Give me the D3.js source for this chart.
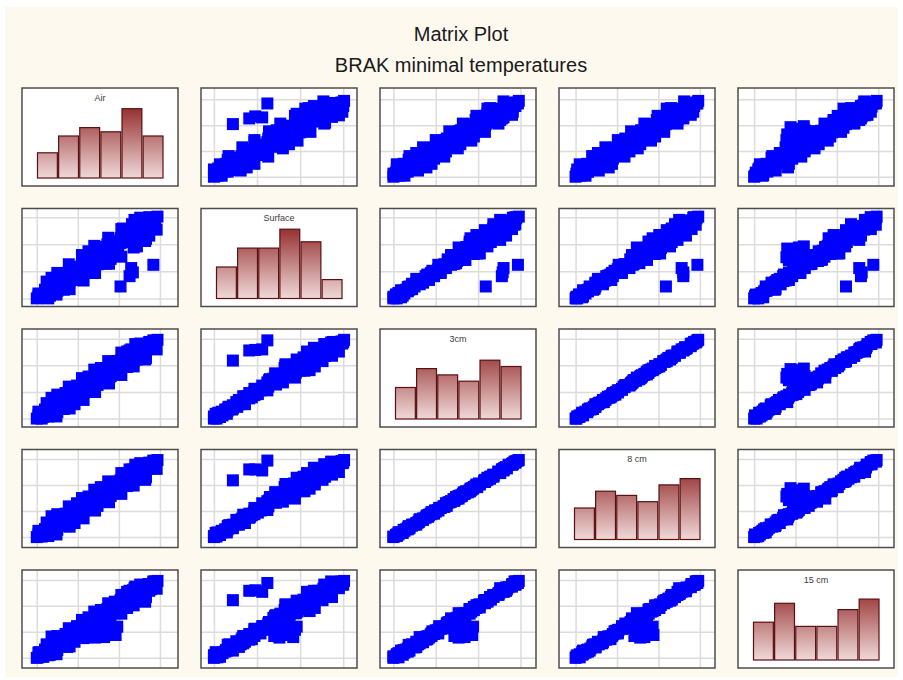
<!DOCTYPE html>
<html>
<head>
<meta charset="utf-8">
<script src="https://cdn.jsdelivr.net/npm/d3@7"></script>
<style>
body { margin: 0; background: #fff; }
text { font-family: "Liberation Sans", Arial, sans-serif; }
</style>
</head>
<body>
<script>
// variables of the matrix (rows / columns)
var names = ["Air", "Surface", "3cm", "8 cm", "15 cm"];

// minimal temperatures, one value per observation
var air = [-10.0,-8.6,-9.2,-9.7,-7.7,-8.4,-9.0,-7.5,-8.7,-6.7,
    -7.6,-8.1,-6.3,-7.0,-5.4,-7.3,-5.7,-6.6,-4.8,-5.7,
    -6.5,-4.4,-4.7,-5.6,-3.3,-4.7,-3.7,-5.1,-2.6,-3.3,
    -4.2,-1.6,-3.3,-2.0,-3.7,-1.2,-1.8,-2.7,-0.3,-1.8,
    -0.7,-2.2,0.2,-0.7,1.0,-1.0,0.7,-0.1,1.8,-0.5,
    1.4,2.2,0.5,2.4,1.6,1.0,3.2,2.9,1.9,3.7,
    2.6,3.9,2.6,4.3,3.7,4.2,4.7,
    -9.4,-9.8,-9.0,-8.3,-9.0,-8.0,-7.2,-7.8,-6.8,-7.0,
    -6.0,-6.7,-5.6,-5.4,-5.8,-4.3,-4.7,-3.8,-4.6,-3.3,
    -2.6,-3.2,-2.4,-2.6,-1.1,-1.8,-1.0,-1.4,-0.1,-0.1,
    -0.3,0.9,0.2,1.8,1.3,1.3,2.6,2.1,3.1,2.9,
    3.7,3.6,4.3,4.4,
    -7.6,-9.8,-6.0,-8.8,-4.3,-7.5,-2.9,-6.1,-1.2,-4.5,
    0.3,-3.0,1.8,-1.3,3.3,0.3,4.6,2.0,-8.2,3.2,
    -3.6,-2.9,-2.2,-1.4,-0.7,-0.2,-2.5,-1.0,-3.1,-0.4,-1.8,-2.7,
    0.2,4.2,1.3,1.7,1.5];
var surface = [-15.0,-15.0,-14.3,-14.8,-14.0,-14.5,-13.4,-13.6,-12.8,-13.4,
    -12.8,-13.2,-12.1,-12.4,-11.4,-12.1,-11.5,-10.9,-11.6,-10.6,
    -10.9,-9.9,-10.3,-9.6,-10.3,-9.3,-8.8,-9.4,-8.7,-8.8,
    -7.8,-8.6,-7.0,-8.5,-6.3,-7.8,-5.6,-7.9,-5.8,-7.8,
    -4.5,-6.8,-3.9,-6.7,-4.5,-6.7,-3.3,-4.9,-2.4,-5.3,
    -3.3,-5.4,-2.1,-3.9,-1.3,-4.2,-1.6,-3.3,-0.5,-3.4,
    -0.8,-1.9,-0.1,-2.2,0.0,-1.4,0.1,
    -14.7,-14.6,-14.6,-13.5,-13.7,-12.9,-13.3,-12.3,-12.2,-11.6,
    -11.8,-10.8,-11.2,-10.4,-10.0,-10.2,-9.2,-9.2,-9.1,-8.0,
    -8.6,-7.1,-8.1,-6.2,-7.6,-5.5,-6.7,-5.0,-6.5,-4.5,
    -5.7,-3.3,-4.8,-3.4,-4.6,-2.2,-3.1,-1.8,-2.9,-0.7,
    -2.0,-0.8,-1.2,-0.2,
    -14.3,-14.1,-13.3,-11.9,-11.7,-10.3,-10.3,-8.7,-8.6,-7.0,
    -7.3,-5.3,-5.6,-3.8,-4.0,-2.2,-2.3,-0.6,-11.2,-4.4,
    -8.0,-7.4,-6.8,-6.1,-5.6,-5.4,-6.5,-7.7,-7.1,-6.3,-5.8,-7.9,
    -12.8,-8.8,-10.9,-10.2,-9.4];
var cm3 = [-6.00,-5.76,-5.82,-5.46,-5.64,-5.34,-5.10,-5.28,-4.86,-4.92,
    -4.50,-4.68,-4.38,-4.14,-4.38,-3.90,-4.14,-3.72,-3.48,-3.60,
    -3.12,-3.24,-3.30,-2.82,-2.64,-2.76,-2.82,-2.28,-2.22,-1.92,
    -2.16,-1.68,-1.92,-1.56,-1.26,-1.38,-1.38,-0.90,-0.84,-1.02,
    -0.60,-0.30,-0.54,-0.06,-0.18,0.12,-0.12,0.48,0.48,0.42,
    0.90,0.66,1.08,1.08,1.08,1.56,1.44,1.86,1.56,1.98,
    2.16,2.04,2.46,2.40,2.64,2.58,2.88,
    -6.00,-5.64,-5.58,-5.46,-4.98,-4.98,-4.68,-4.68,-4.20,-4.14,
    -4.08,-3.54,-3.48,-3.36,-3.00,-3.06,-2.70,-2.40,-2.46,-2.04,
    -1.74,-1.74,-1.50,-1.14,-1.26,-0.84,-0.60,-0.60,-0.30,0.12,
    0.06,0.42,0.42,0.84,0.90,1.08,1.50,1.44,1.80,1.98,
    1.98,2.46,2.64,2.70,
    -5.76,-5.22,-4.86,-4.26,-3.90,-3.30,-3.00,-2.40,-2.04,-1.44,
    -1.08,-0.48,-0.12,0.48,0.84,1.44,1.80,2.40,-3.66,0.66,
    -1.68,-1.38,-1.14,-0.84,-0.54,-0.36,-0.72,-1.20,-1.56,-0.42,-0.96,-1.50,
    0.54,2.82,1.68,1.74,1.80];
var cm8 = [-4.00,-3.92,-3.84,-3.68,-3.64,-3.68,-3.40,-3.44,-3.32,-3.16,
    -3.04,-3.08,-3.04,-2.68,-2.92,-2.68,-2.64,-2.52,-2.28,-2.32,
    -2.20,-2.12,-2.08,-1.96,-1.76,-1.76,-1.92,-1.40,-1.60,-1.24,
    -1.36,-1.20,-1.28,-0.92,-0.88,-0.84,-1.04,-0.56,-0.56,-0.56,
    -0.48,-0.16,-0.28,-0.16,-0.08,0.08,0.04,0.24,0.40,0.24,
    0.64,0.56,0.64,0.72,0.80,0.92,1.00,1.32,1.00,1.32,
    1.56,1.28,1.68,1.60,1.72,1.80,1.92,
    -3.96,-3.80,-3.64,-3.64,-3.40,-3.28,-3.12,-3.04,-2.84,-2.72,
    -2.64,-2.44,-2.32,-2.20,-2.04,-1.96,-1.76,-1.68,-1.64,-1.32,
    -1.20,-1.08,-1.00,-0.80,-0.80,-0.48,-0.48,-0.40,-0.16,0.04,
    0.12,0.28,0.32,0.48,0.64,0.72,0.96,1.04,1.20,1.36,
    1.36,1.60,1.76,1.84,
    -3.80,-3.52,-3.20,-2.88,-2.56,-2.24,-1.96,-1.64,-1.32,-1.00,
    -0.68,-0.36,-0.04,0.28,0.60,0.92,1.24,1.56,-2.40,0.40,
    -1.16,-0.88,-0.80,-0.52,-0.40,-0.28,-0.56,-0.84,-1.00,-0.24,-0.68,-1.04,
    0.36,1.88,1.20,1.20,1.12];
var cm15 = [-3.00,-2.90,-2.96,-2.78,-2.82,-2.88,-2.68,-2.70,-2.72,-2.50,
    -2.60,-2.48,-2.58,-2.36,-2.38,-2.40,-2.20,-2.30,-2.16,-2.28,
    -2.08,-1.98,-2.06,-2.06,-1.88,-1.78,-1.92,-1.78,-1.68,-1.82,
    -1.64,-1.62,-1.48,-1.62,-1.44,-1.48,-1.28,-1.38,-1.28,-1.36,
    -1.14,-1.16,-1.20,-0.98,-1.08,-0.94,-1.08,-0.86,-0.78,-0.84,
    -0.72,-0.80,-0.58,-0.64,-0.66,-0.46,-0.54,-0.44,-0.32,-0.42,
    -0.28,-0.36,-0.18,-0.18,-0.18,-0.06,-0.04,
    -2.94,-2.98,-2.84,-2.72,-2.76,-2.64,-2.50,-2.52,-2.40,-2.44,
    -2.30,-2.18,-2.22,-2.10,-1.96,-2.02,-1.86,-1.82,-1.86,-1.64,
    -1.64,-1.60,-1.46,-1.34,-1.38,-1.28,-1.30,-1.12,-1.04,-1.06,
    -0.96,-0.80,-0.84,-0.72,-0.76,-0.60,-0.50,-0.52,-0.42,-0.30,
    -0.30,-0.16,-0.18,-0.06,
    -2.86,-2.80,-2.56,-2.48,-2.24,-2.16,-1.94,-1.86,-1.62,-1.54,
    -1.30,-1.22,-0.98,-0.90,-0.66,-0.58,-0.34,-0.26,-2.18,-0.84,
    -2.16,-2.22,-2.08,-2.02,-1.92,-1.80,-1.88,-1.78,-1.96,-2.12,-2.20,-1.82,
    -0.78,-0.12,-0.42,-0.40,-0.46];

// histogram counts (6 bins) on the diagonal
var histAir = [12, 20, 24, 22, 33, 20];
var histSurface = [15, 24, 24, 33, 27, 9];
var hist3 = [15, 24, 21, 18, 28, 25];
var hist8 = [15, 23, 21, 18, 26, 29];
var hist15 = [18, 27, 16, 16, 24, 29];

// grid tick values per variable
var ticksAir = [-10, -5, 0, 5];
var ticksSurface = [-15, -10, -5, 0];
var ticks3 = [-6, -3, 0, 3];
var ticks8 = [-4, -2, 0, 2];
var ticks15 = [-3, -2, -1, 0];

// axis extents per variable
var domainAir = [-11.8, 7.2];
var domainSurface = [-16.5, 1.6];
var domain3 = [-6.95, 4.1];
var domain8 = [-4.8, 2.73];
var domain15 = [-3.39, 0.38];

var series = [air, surface, cm3, cm8, cm15];
var hists = [histAir, histSurface, hist3, hist8, hist15];
var tickSets = [ticksAir, ticksSurface, ticks3, ticks8, ticks15];
var domains = [domainAir, domainSurface, domain3, domain8, domain15];

var w = 903;
var h = 680;
var cellW = 156;
var cellH = 98;
var left = 22;
var top0 = 88;
var stepX = 179;
var stepY = 120.5;
var marker = 12;

var svg = d3.select("body")
    .append("svg")
    .attr("width", w)
    .attr("height", h);

svg.append("rect")
    .attr("x", 5)
    .attr("y", 7)
    .attr("width", 893)
    .attr("height", 670)
    .attr("fill", "#fdf9ef");

svg.append("text")
    .attr("x", 461)
    .attr("y", 40.5)
    .attr("text-anchor", "middle")
    .attr("font-size", 20)
    .attr("fill", "#1a1a1a")
    .text("Matrix Plot");

svg.append("text")
    .attr("x", 461)
    .attr("y", 71.5)
    .attr("text-anchor", "middle")
    .attr("font-size", 20)
    .attr("fill", "#1a1a1a")
    .text("BRAK minimal temperatures");

var grad = svg.append("defs")
    .append("linearGradient")
    .attr("id", "barGrad")
    .attr("gradientUnits", "userSpaceOnUse")
    .attr("x1", 0).attr("y1", 20)
    .attr("x2", 0).attr("y2", 90);
grad.append("stop").attr("offset", "0%").attr("stop-color", "#963030");
grad.append("stop").attr("offset", "100%").attr("stop-color", "#f0d9d9");

var histY = d3.scaleLinear()
    .domain([0, d3.max(hists, function(c){ return d3.max(c); })])
    .range([90, 20.7]);

var histX = d3.scaleBand()
    .domain(d3.range(6))
    .range([15.5, 141])
    .paddingInner(0.06);

names.forEach(function(rowName, i){
    names.forEach(function(colName, j){
        var g = svg.append("g")
            .attr("transform", "translate(" + (left + j * stepX) + "," + (top0 + i * stepY) + ")");

        g.append("rect")
            .attr("width", cellW)
            .attr("height", cellH)
            .attr("fill", "#fff");

        if (i === j) {
            g.selectAll("rect.bar")
                .data(hists[i])
                .enter()
                .append("rect")
                .attr("class", "bar")
                .attr("x", function(d, k){ return histX(k); })
                .attr("y", function(d){ return histY(d); })
                .attr("width", histX.bandwidth())
                .attr("height", function(d){ return histY(0) - histY(d); })
                .attr("fill", "url(#barGrad)")
                .attr("stroke", "#5a1010")
                .attr("stroke-width", 1.2);

            g.append("text")
                .attr("x", cellW / 2)
                .attr("y", 12.7)
                .attr("text-anchor", "middle")
                .attr("font-size", 9)
                .attr("fill", "#3a3a3a")
                .text(rowName);
        } else {
            var xScale = d3.scaleLinear().domain(domains[j]).range([0, cellW]);
            var yScale = d3.scaleLinear().domain(domains[i]).range([cellH, 0]);

            var gx = g.append("g")
                .attr("transform", "translate(0," + cellH + ")")
                .call(d3.axisBottom(xScale).tickValues(tickSets[j]).tickSize(-cellH).tickFormat(""));
            var gy = g.append("g")
                .call(d3.axisLeft(yScale).tickValues(tickSets[i]).tickSize(-cellW).tickFormat(""));
            [gx, gy].forEach(function(ax){
                ax.select(".domain").remove();
                ax.selectAll("line").attr("stroke", "#dcdcdc").attr("stroke-width", 1.5);
            });

            var xs = series[j];
            var ys = series[i];
            g.selectAll("rect.pt")
                .data(d3.range(xs.length))
                .enter()
                .append("rect")
                .attr("class", "pt")
                .attr("x", function(k){ return xScale(xs[k]) - marker / 2; })
                .attr("y", function(k){ return yScale(ys[k]) - marker / 2; })
                .attr("width", marker)
                .attr("height", marker)
                .attr("fill", "#0000ff");
        }

        g.append("rect")
            .attr("width", cellW)
            .attr("height", cellH)
            .attr("fill", "none")
            .attr("stroke", "#4d4d4d")
            .attr("stroke-width", 1.5);
    });
});
</script>
</body>
</html>
